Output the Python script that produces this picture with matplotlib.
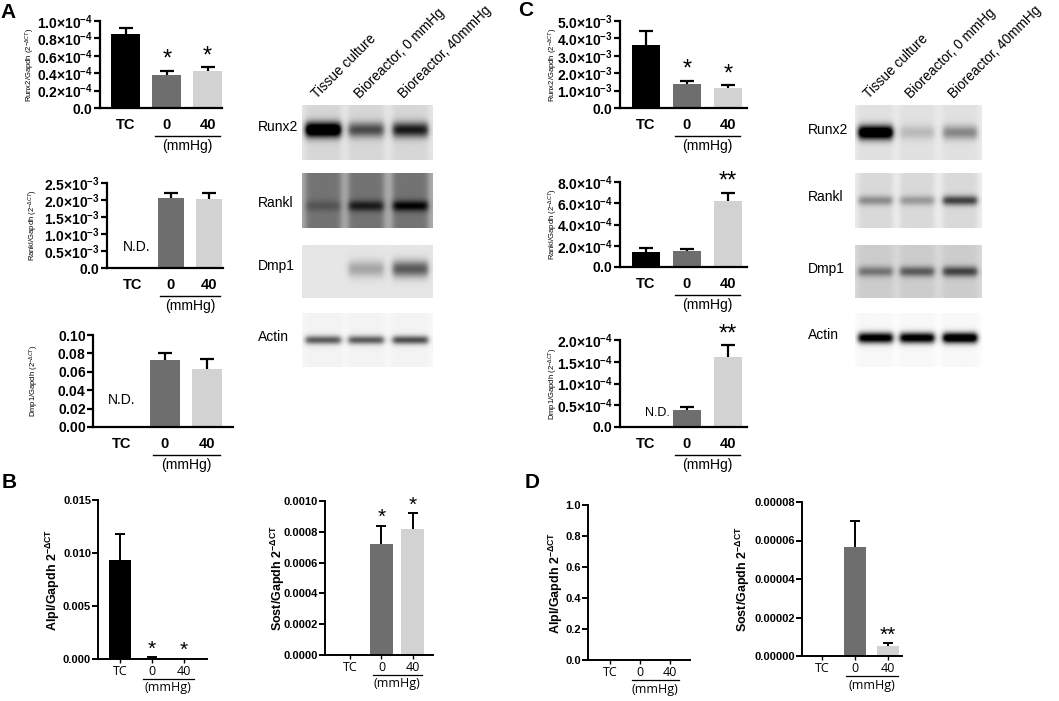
import numpy as np
import matplotlib
matplotlib.use('Agg')
import matplotlib.pyplot as plt
from matplotlib import transforms

plt.rcParams['font.family'] = ['Liberation Sans', 'DejaVu Sans']
plt.rcParams['mathtext.fontset'] = 'custom'
plt.rcParams['mathtext.rm'] = 'Liberation Sans'
plt.rcParams['mathtext.bf'] = 'Liberation Sans:bold'
plt.rcParams['mathtext.it'] = 'Liberation Sans:italic'

W, H = 1059, 701

groups = ['TC', '0', '40']
bar_colors = ['#000000', '#6e6e6e', '#d2d2d2']

# ---- qPCR data (mean, upper SEM) ----
a_runx2_mean = [0.85e-4, 0.38e-4, 0.42e-4]
a_runx2_err = [0.07e-4, 0.05e-4, 0.05e-4]
a_runx2_sig = ['', '*', '*']

a_rankl_mean = [0.0, 2.05e-3, 2.03e-3]
a_rankl_err = [0.0, 0.15e-3, 0.17e-3]
a_rankl_sig = ['', '', '']

a_dmp1_mean = [0.0, 0.073, 0.063]
a_dmp1_err = [0.0, 0.007, 0.011]
a_dmp1_sig = ['', '', '']

c_runx2_mean = [3.6e-3, 1.4e-3, 1.15e-3]
c_runx2_err = [0.8e-3, 0.15e-3, 0.15e-3]
c_runx2_sig = ['', '*', '*']

c_rankl_mean = [1.4e-4, 1.5e-4, 6.2e-4]
c_rankl_err = [0.4e-4, 0.2e-4, 0.8e-4]
c_rankl_sig = ['', '', '**']

c_dmp1_mean = [0.0, 0.38e-4, 1.6e-4]
c_dmp1_err = [0.0, 0.07e-4, 0.28e-4]
c_dmp1_sig = ['', '', '**']

b_alpl_mean = [0.0093, 0.0001, 0.00003]
b_alpl_err = [0.0025, 0.00005, 0.0]
b_alpl_sig = ['', '*', '*']

b_sost_mean = [0.0, 0.00072, 0.00082]
b_sost_err = [0.0, 0.00012, 0.0001]
b_sost_sig = ['', '*', '*']

d_alpl_mean = [0.0, 0.0, 0.0]
d_alpl_err = [0.0, 0.0, 0.0]
d_alpl_sig = ['', '', '']

d_sost_mean = [0.0, 0.0000565, 0.0000050]
d_sost_err = [0.0, 0.0000135, 0.0000015]
d_sost_sig = ['', '', '**']

# ---- western blot band darkness per lane ----
blot_rows = ['Runx2', 'Rankl', 'Dmp1', 'Actin']
blot_lanes = ['Tissue culture', 'Bioreactor, 0 mmHg', 'Bioreactor, 40mmHg']
a_blot_runx2 = [1.2, 0.55, 0.75]
a_blot_rankl = [0.12, 0.35, 0.45]
a_blot_dmp1 = [0.0, 0.25, 0.55]
a_blot_actin = [0.6, 0.6, 0.65]
c_blot_runx2 = [1.2, 0.15, 0.35]
c_blot_rankl = [0.3, 0.25, 0.6]
c_blot_dmp1 = [0.35, 0.45, 0.55]
c_blot_actin = [1.1, 1.1, 1.2]

fig = plt.figure(figsize=(W / 100, H / 100), dpi=100)


def fx(x):
    return x / W


def fy(y):
    return 1 - y / H


def px_ax(x0, y0, x1, y1):
    return fig.add_axes([fx(x0), fy(y1), (x1 - x0) / W, (y1 - y0) / H])


def sci_labels(ticks, exp):
    out = []
    for t in ticks:
        if t == 0:
            out.append(r'$\mathbf{0.0}$')
        else:
            out.append(r'$\mathbf{%.1f{\times}10^{%d}}$' % (t, exp))
    return out


def bar_panel(box, means, errs, sig, ticks, ticklabels, xlim, ylabel, ylabel_x,
              top=True, nd=None, width=0.7, scale=1.0):
    ax = px_ax(*box)
    x = np.arange(3)
    m = np.array(means) / scale
    e = np.array(errs) / scale
    ax.bar(x, m, width=width, color=bar_colors)
    lw = 1.6 if top else 1.4
    cap = 10 if top else 7
    for xi, mi, ei, s in zip(x, m, e, sig):
        if ei > 0:
            ax.plot([xi, xi], [mi, mi + ei], color='k', lw=lw, solid_capstyle='butt')
            ax.plot([xi], [mi + ei], marker='_', ms=cap, mew=lw, color='k')
        if s:
            ax.annotate(s, xy=(xi, mi + ei), xytext=(0, 0 if top else -1),
                        textcoords='offset points', ha='center', va='bottom',
                        fontsize=17 if top else 15)
    ax.set_xlim(*xlim)
    ax.set_ylim(ticks[0], ticks[-1])
    ax.set_yticks(ticks, ticklabels)
    for sp in ['top', 'right']:
        ax.spines[sp].set_visible(False)
    for sp in ['left', 'bottom']:
        ax.spines[sp].set_linewidth(lw)
    tr = transforms.blended_transform_factory(ax.transData, fig.transFigure)
    yb = box[3]
    if top:
        ax.tick_params(axis='y', length=4, width=lw, labelsize=10, pad=1)
        ax.set_xticks(x, groups)
        ax.tick_params(axis='x', length=0, labelsize=10.5, pad=7)
        for lab in ax.get_xticklabels():
            lab.set_fontweight('bold')
        ax.plot([0.72, 2.3], [fy(yb + 28)] * 2, color='k', lw=1.0,
                transform=tr, clip_on=False)
        ax.text(1.5, fy(yb + 38), '(mmHg)', transform=tr, ha='center',
                va='center', fontsize=10)
        fig.text(fx(ylabel_x), fy((box[1] + box[3]) / 2), ylabel, rotation=90,
                 ha='center', va='center', fontsize=5.5)
        if nd is not None:
            ax.text(nd[0], ticks[-1] * nd[1], 'N.D.', ha='center', va='center',
                    fontsize=nd[2])
    else:
        ax.tick_params(axis='y', length=4, width=lw, labelsize=8, pad=1)
        for lab in ax.get_yticklabels():
            lab.set_fontweight('bold')
        ax.set_xticks(x, groups)
        ax.tick_params(axis='x', length=3, width=1.0, labelsize=9, pad=1)
        for lab in ax.get_xticklabels():
            lab.set_family(['Open Sans', 'DejaVu Sans'])
        ax.plot([0.72, 2.3], [fy(yb + 20)] * 2, color='k', lw=0.9,
                transform=tr, clip_on=False)
        ax.text(1.5, fy(yb + 29), '(mmHg)', transform=tr, ha='center',
                va='center', fontsize=9, family=['Open Sans', 'DejaVu Sans'])
        fig.text(fx(ylabel_x), fy((box[1] + box[3]) / 2), ylabel, rotation=90,
                 ha='center', va='center', fontsize=9, fontweight='bold')
    return ax


def blot_image(levels, bg, gap_bg, band_y, band_h, nrow=55, ncol=130):
    yy = np.linspace(0, 1, nrow)[:, None]
    xx = np.linspace(0, 1, ncol)[None, :]
    lane_x = [0.16, 0.49, 0.83]
    hw = 0.135
    base = np.full((nrow, ncol), gap_bg)
    dark = np.zeros((nrow, ncol))
    for c, lv in zip(lane_x, levels):
        lane = 1 / (1 + np.exp(-(xx - (c - hw)) / 0.012)) * 1 / (1 + np.exp((xx - (c + hw)) / 0.012))
        base = base + (bg - gap_bg) * lane
        dark = dark + lv * lane * np.exp(-((yy - band_y) / band_h) ** 2)
    return np.clip(base - dark, 0, 1)


def blot_panel(x0, x1, label_x, specs):
    rows_y = [(105, 160), (173, 228), (245, 298), (313, 367)]
    for name, (y0, y1), (levels, bg, gap_bg, by, bh) in zip(blot_rows, rows_y, specs):
        ax = px_ax(x0, y0, x1, y1)
        ax.imshow(blot_image(levels, bg, gap_bg, by, bh), cmap='gray', vmin=0, vmax=1,
                  aspect='auto', interpolation='bilinear')
        ax.axis('off')
        fig.text(fx(label_x), fy(by * (y1 - y0) + y0 - 3), name, ha='left', va='center',
                 fontsize=10)
    lane_px = [x0 + f * (x1 - x0) for f in [0.16, 0.49, 0.83]]
    for lx, name in zip(lane_px, blot_lanes):
        fig.text(fx(lx - 4), fy(101), name, rotation=45, rotation_mode='anchor',
                 ha='left', va='bottom', fontsize=9.8)


# ---- panel A ----
bar_panel((100, 21, 222, 108), a_runx2_mean, a_runx2_err, a_runx2_sig,
          [0, 0.2, 0.4, 0.6, 0.8, 1.0], sci_labels([0, 0.2, 0.4, 0.6, 0.8, 1.0], -4),
          (-0.63, 2.35), r'Runx2/Gapdh (2$^{-\Delta CT}$)', 30, scale=1e-4)
bar_panel((107, 183, 223, 268), a_rankl_mean, a_rankl_err, a_rankl_sig,
          [0, 0.5, 1.0, 1.5, 2.0, 2.5], sci_labels([0, 0.5, 1.0, 1.5, 2.0, 2.5], -3),
          (-0.68, 2.37), r'Rankl/Gapdh (2$^{-\Delta CT}$)', 33, nd=(0.1, 0.25, 10),
          scale=1e-3)
bar_panel((93, 335, 233, 427), a_dmp1_mean, a_dmp1_err, a_dmp1_sig,
          [0, 0.02, 0.04, 0.06, 0.08, 0.10],
          [r'$\mathbf{%.2f}$' % t for t in [0, 0.02, 0.04, 0.06, 0.08, 0.10]],
          (-0.68, 2.6), r'Dmp1/Gapdh (2$^{-\Delta CT}$)', 34, nd=(0.0, 0.29, 10))

blot_panel(302, 432, 258, [
    (a_blot_runx2, 0.84, 0.9, 0.45, 0.14),
    (a_blot_rankl, 0.45, 0.68, 0.6, 0.1),
    (a_blot_dmp1, 0.9, 0.9, 0.45, 0.16),
    (a_blot_actin, 0.95, 0.97, 0.5, 0.08),
])

# ---- panel C ----
bar_panel((620, 21, 747, 108), c_runx2_mean, c_runx2_err, c_runx2_sig,
          [0, 1, 2, 3, 4, 5], sci_labels([0, 1, 2, 3, 4, 5], -3),
          (-0.63, 2.46), r'Runx2/Gapdh (2$^{-\Delta CT}$)', 553, scale=1e-3)
bar_panel((620, 182, 747, 267), c_rankl_mean, c_rankl_err, c_rankl_sig,
          [0, 2, 4, 6, 8], sci_labels([0, 2, 4, 6, 8], -4),
          (-0.63, 2.46), r'Rankl/Gapdh (2$^{-\Delta CT}$)', 553, scale=1e-4)
bar_panel((620, 340, 747, 427), c_dmp1_mean, c_dmp1_err, c_dmp1_sig,
          [0, 0.5, 1.0, 1.5, 2.0], sci_labels([0, 0.5, 1.0, 1.5, 2.0], -4),
          (-0.63, 2.46), r'Dmp1/Gapdh (2$^{-\Delta CT}$)', 553, nd=(0.28, 0.16, 9),
          scale=1e-4)

blot_panel(855, 982, 808, [
    (c_blot_runx2, 0.88, 0.92, 0.5, 0.13),
    (c_blot_rankl, 0.85, 0.93, 0.5, 0.09),
    (c_blot_dmp1, 0.8, 0.85, 0.5, 0.1),
    (c_blot_actin, 0.97, 0.99, 0.46, 0.1),
])

# ---- panel B ----
bar_panel((98, 500, 207, 659), b_alpl_mean, b_alpl_err, b_alpl_sig,
          [0, 0.005, 0.010, 0.015], ['%.3f' % t for t in [0, 0.005, 0.010, 0.015]],
          (-0.69, 2.72), r'Alpl/Gapdh 2$^{\mathbf{-\Delta CT}}$', 53, top=False)
bar_panel((325, 501, 433, 655), b_sost_mean, b_sost_err, b_sost_sig,
          [0, 0.0002, 0.0004, 0.0006, 0.0008, 0.0010],
          ['%.4f' % t for t in [0, 0.0002, 0.0004, 0.0006, 0.0008, 0.0010]],
          (-0.82, 2.66), r'Sost/Gapdh 2$^{\mathbf{-\Delta CT}}$', 278, top=False, width=0.74)

# ---- panel D ----
bar_panel((588, 505, 690, 660), d_alpl_mean, d_alpl_err, d_alpl_sig,
          [0, 0.2, 0.4, 0.6, 0.8, 1.0], ['%.1f' % t for t in [0, 0.2, 0.4, 0.6, 0.8, 1.0]],
          (-0.73, 2.67), r'Alpl/Gapdh 2$^{\mathbf{-\Delta CT}}$', 556, top=False)
bar_panel((802, 502, 902, 656), d_sost_mean, d_sost_err, d_sost_sig,
          [0, 0.00002, 0.00004, 0.00006, 0.00008],
          ['%.5f' % t for t in [0, 0.00002, 0.00004, 0.00006, 0.00008]],
          (-0.6, 2.42), r'Sost/Gapdh 2$^{\mathbf{-\Delta CT}}$', 743, top=False, width=0.65)

for letter, (lx, ly) in zip('ABCD', [(8, 13), (9, 482), (526, 11), (532, 482)]):
    fig.text(fx(lx), fy(ly), letter, ha='center', va='center', fontsize=15,
             fontweight='bold')

fig.savefig('out.png', dpi=100)
